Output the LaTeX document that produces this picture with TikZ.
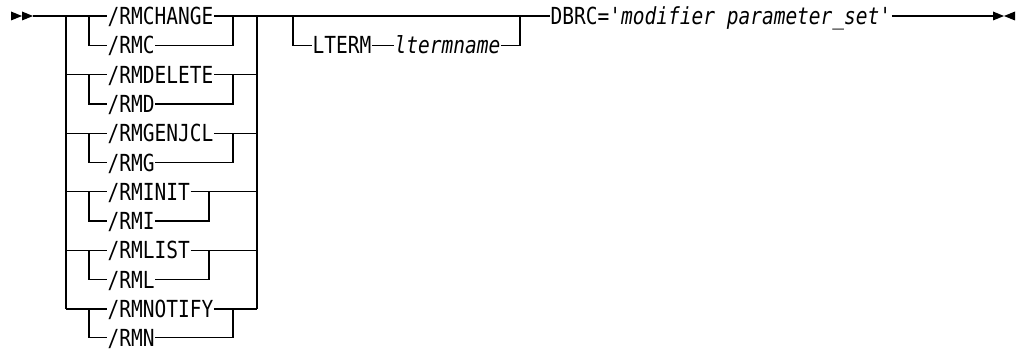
\documentclass[tikz,border=0pt]{standalone}
\usepackage{fontspec}
\newfontfamily\diafont[FakeStretch=0.83]{DejaVu Sans Mono}
\begin{document}
\begin{tikzpicture}[x=1pt,y=-1pt,line width=1.3pt,
  every node/.style={font={\diafont\fontsize{23.5pt}{28pt}\selectfont},inner sep=0pt,text height=17.1pt,text depth=0pt},
  kw/.style={anchor=west},
  tip/.style={fill=black,draw=none}]
\useasboundingbox (0,0) rectangle (1018,350);
% start arrows
\fill[tip] (11,11.5) -- (22,16) -- (11,20.5) -- cycle;
\fill[tip] (22,11.5) -- (33,16) -- (22,20.5) -- cycle;
\coordinate (s) at (33,16);
% keyword nodes
\node[kw] (c1) at (107,16)    {/RMCHANGE};
\node[kw] (c2) at (107,45.3)  {/RMC};
\node[kw] (d1) at (107,74.6)  {/RMDELETE};
\node[kw] (d2) at (107,103.9) {/RMD};
\node[kw] (g1) at (107,133.2) {/RMGENJCL};
\node[kw] (g2) at (107,162.5) {/RMG};
\node[kw] (i1) at (107,191.8) {/RMINIT};
\node[kw] (i2) at (107,221.1) {/RMI};
\node[kw] (l1) at (107,250.4) {/RMLIST};
\node[kw] (l2) at (107,279.7) {/RML};
\node[kw] (n1) at (107,309)   {/RMNOTIFY};
\node[kw] (n2) at (107,337.5) {/RMN};
\node[kw] (lt) at (312,45.3)  {LTERM};
\node[kw] (ltn) at (394,45.3) {\itshape ltermname};
\node[kw] (db) at (550,16)    {DBRC='{\itshape modifier parameter\_set}'};
% junctions
\coordinate (OL0) at (66,16);  \coordinate (OLe) at (66,309);
\coordinate (OR0) at (257,16); \coordinate (ORe) at (257,309);
\coordinate (e) at (993,16);
% main line
\draw (s) -- (c1.west);
\draw (c1.east) -- (db.west);
\draw (db.east) -- (e);
% outer verticals
\draw (OL0) -- (OLe);
\draw (OR0) -- (ORe);
% group 1
\draw (89,16) |- (c2.west);
\draw (c2.east) -| (233,16);
% groups 2..6
\foreach \a/\b/\xr in {d1/d2/233,g1/g2/233,i1/i2/209,l1/l2/209,n1/n2/233}{
  \draw (OL0 |- \a.west) -- (\a.west);
  \draw (89,0 |- \a.west) |- (\b.west);
  \draw (\a.east) -- (OR0 |- \a.east);
  \draw (\b.east) -| (\xr,0 |- \a.east);
}
% LTERM
\draw (293,16) |- (lt.west);
\draw (lt.east) -- (ltn.west);
\draw (ltn.east) -| (520,16);
% end arrows
\fill[tip] (993,11.5) -- (1004,16) -- (993,20.5) -- cycle;
\fill[tip] (1015,11.5) -- (1004,16) -- (1015,20.5) -- cycle;
\end{tikzpicture}
\end{document}
